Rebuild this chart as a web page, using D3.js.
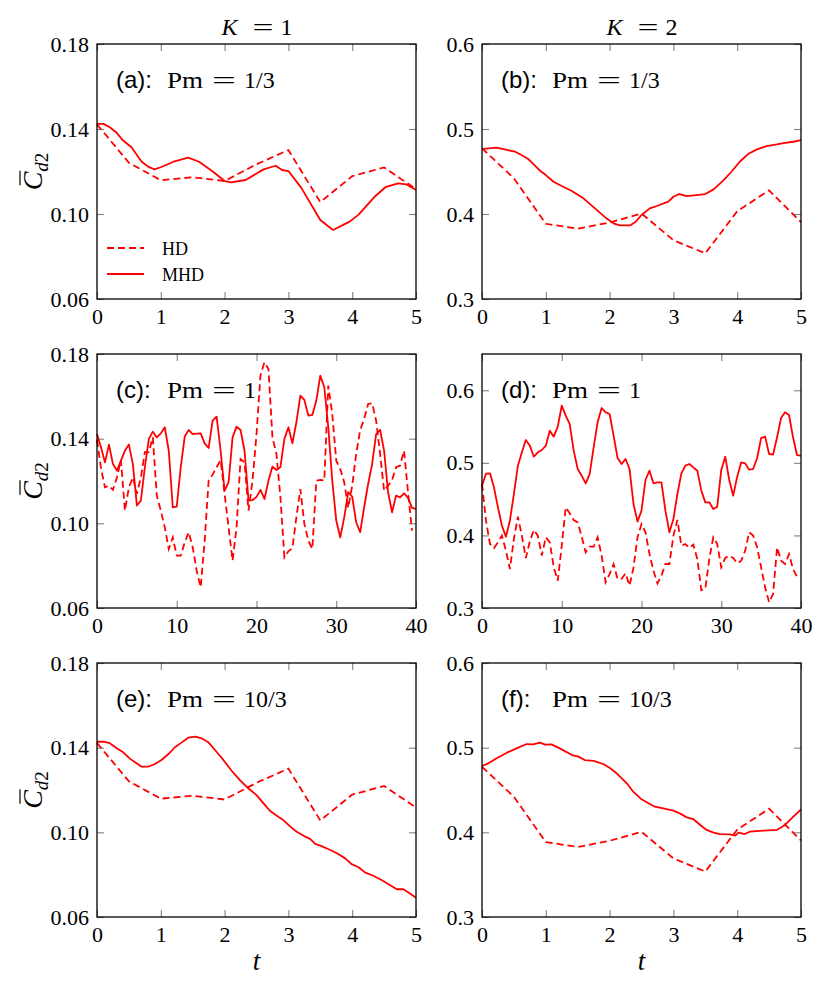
<!DOCTYPE html>
<html>
<head>
<meta charset="utf-8">
<script src="https://cdn.jsdelivr.net/npm/d3@7"></script>
<style>
  body { margin: 0; background: #fff; }
  svg { display: block; }
</style>
</head>
<body>
<div id="chart-container"></div>
<script>
// ---- data ----
// HD runs (same for every Pm, sampled every 0.5)
var hdShortT = [0, 0.5, 1, 1.5, 2, 2.5, 3, 3.5, 4, 4.5, 5];
var hdK1 = [0.1422, 0.1241, 0.1159, 0.1173, 0.1155, 0.1234, 0.1301, 0.1056, 0.1178, 0.1219, 0.1117];
var hdK2 = [0.4773, 0.4420, 0.3885, 0.3827, 0.3900, 0.4006, 0.3692, 0.3537, 0.4032, 0.4279, 0.3904];

// (a) K=1, Pm=1/3 MHD
var mhdAT = [0, 0.1, 0.2, 0.3, 0.4, 0.54, 0.7, 0.8, 0.9, 1.0, 1.2, 1.43, 1.6, 1.82, 2.0, 2.1, 2.33, 2.61, 2.8, 2.9, 3.0, 3.2, 3.5, 3.7, 3.96, 4.1, 4.35, 4.53, 4.72, 4.85, 5.0];
var mhdAV = [0.1424, 0.1424, 0.1408, 0.1385, 0.1348, 0.1314, 0.1246, 0.1223, 0.1210, 0.1220, 0.1246, 0.1265, 0.1246, 0.1199, 0.1155, 0.1149, 0.1160, 0.1210, 0.1227, 0.1207, 0.1202, 0.1124, 0.0972, 0.0925, 0.0964, 0.0997, 0.1081, 0.1128, 0.1144, 0.1139, 0.1113];

// (b) K=2, Pm=1/3 MHD
var mhdBT = [0, 0.1, 0.23, 0.39, 0.52, 0.62, 0.73, 0.83, 0.91, 1.0, 1.12, 1.22, 1.4, 1.59, 1.77, 1.95, 2.06, 2.16, 2.32, 2.41, 2.5, 2.63, 2.74, 2.92, 3.0, 3.09, 3.21, 3.36, 3.5, 3.63, 3.78, 3.91, 4.04, 4.17, 4.31, 4.46, 4.62, 4.75, 4.88, 5.0];
var mhdBV = [0.4764, 0.4772, 0.4780, 0.4753, 0.4733, 0.4694, 0.4643, 0.4568, 0.4509, 0.4458, 0.4380, 0.4341, 0.4274, 0.4184, 0.4066, 0.3949, 0.3890, 0.3866, 0.3866, 0.3909, 0.3988, 0.4066, 0.4094, 0.4145, 0.4203, 0.4235, 0.4211, 0.4223, 0.4235, 0.4290, 0.4392, 0.4497, 0.4615, 0.4705, 0.4760, 0.4799, 0.4819, 0.4838, 0.4850, 0.4870];

// (c) K=1, Pm=1 and (d) K=2, Pm=1, sampled every 0.5 up to t=40
var longT = d3.range(0, 40.25, 0.5);
var hdCV = [0.1394, 0.1260, 0.1170, 0.1178, 0.1158, 0.1217, 0.1299, 0.1060, 0.1170, 0.1217,
  0.1139, 0.1217, 0.1336, 0.1336, 0.1406, 0.1131, 0.1060, 0.0981, 0.0879, 0.0934,
  0.0847, 0.0847, 0.0910, 0.0958, 0.0887, 0.0776, 0.0698, 0.0918, 0.1202, 0.1230,
  0.1265, 0.1299, 0.1139, 0.0981, 0.0824, 0.0981, 0.1304, 0.1288, 0.1060, 0.1202,
  0.1420, 0.1700, 0.1761, 0.1729, 0.1406, 0.1328, 0.1123, 0.0839, 0.0868, 0.0883,
  0.1028, 0.1162, 0.0997, 0.0918, 0.0879, 0.1202, 0.1205, 0.1202, 0.1651, 0.1517,
  0.1296, 0.1257, 0.1194, 0.1073, 0.1178, 0.1328, 0.1441, 0.1493, 0.1564, 0.1567,
  0.1485, 0.1328, 0.1154, 0.1178, 0.1205, 0.1265, 0.1273, 0.1343, 0.1147, 0.0965];
var mhdCV = [0.1422, 0.1359, 0.1288, 0.1372, 0.1280, 0.1249, 0.1296, 0.1343, 0.1372, 0.1280,
  0.1084, 0.1107, 0.1265, 0.1399, 0.1433, 0.1406, 0.1425, 0.1454, 0.1343, 0.1076,
  0.1079, 0.1265, 0.1410, 0.1441, 0.1422, 0.1424, 0.1425, 0.1378, 0.1356, 0.1485,
  0.1504, 0.1343, 0.1154, 0.1194, 0.1406, 0.1457, 0.1441, 0.1343, 0.1107, 0.1110,
  0.1125, 0.1158, 0.1115, 0.1202, 0.1268, 0.1252, 0.1265, 0.1399, 0.1454, 0.1378,
  0.1477, 0.1603, 0.1583, 0.1509, 0.1512, 0.1580, 0.1698, 0.1643, 0.1454, 0.1202,
  0.1013, 0.0934, 0.1028, 0.1147, 0.1126, 0.1005, 0.0958, 0.1076, 0.1186, 0.1280,
  0.1422, 0.1441, 0.1343, 0.1147, 0.1052, 0.1131, 0.1123, 0.1142, 0.1120, 0.1073, 0.1068];
var hdDV = [0.4709, 0.4203, 0.3882, 0.3827, 0.3905, 0.3997, 0.3790, 0.3537, 0.3951, 0.4258,
  0.3997, 0.3689, 0.3919, 0.4075, 0.3997, 0.3721, 0.3974, 0.3905, 0.3560, 0.3377,
  0.3859, 0.4387, 0.4304, 0.4213, 0.4180, 0.3983, 0.3767, 0.3845, 0.3845, 0.3974,
  0.3721, 0.3354, 0.3468, 0.3606, 0.3400, 0.3400, 0.3478, 0.3308, 0.3560, 0.3974,
  0.4157, 0.4043, 0.3744, 0.3514, 0.3340, 0.3446, 0.3606, 0.3606, 0.3997, 0.4213,
  0.3859, 0.3882, 0.3827, 0.3873, 0.3675, 0.3248, 0.3262, 0.3675, 0.3974, 0.3882,
  0.3560, 0.3689, 0.3721, 0.3689, 0.3615, 0.3652, 0.3790, 0.4043, 0.3997, 0.3836,
  0.3560, 0.3285, 0.3078, 0.3193, 0.3836, 0.3652, 0.3606, 0.3744, 0.3537, 0.3431];
var mhdDV = [0.4686, 0.4850, 0.4856, 0.4663, 0.4387, 0.4134, 0.3983, 0.4203, 0.4571, 0.4961,
  0.5145, 0.5315, 0.5237, 0.5085, 0.5145, 0.5177, 0.5237, 0.5443, 0.5361, 0.5499,
  0.5788, 0.5650, 0.5535, 0.5168, 0.4915, 0.4823, 0.4718, 0.4846, 0.5214, 0.5558,
  0.5756, 0.5696, 0.5673, 0.5375, 0.5067, 0.4984, 0.5053, 0.4915, 0.4433, 0.4190,
  0.4341, 0.4764, 0.4892, 0.4718, 0.4732, 0.4732, 0.4341, 0.4043, 0.4226, 0.4571,
  0.4856, 0.4961, 0.4984, 0.4938, 0.4892, 0.4617, 0.4456, 0.4456, 0.4364, 0.4396,
  0.4902, 0.5085, 0.4764, 0.4548, 0.4810, 0.5007, 0.4993, 0.4906, 0.4915, 0.5067,
  0.5342, 0.5361, 0.5122, 0.5113, 0.5352, 0.5618, 0.5696, 0.5659, 0.5352, 0.5108, 0.5099];

// (e) K=1, Pm=10/3 MHD
var mhdET = [0, 0.1, 0.2, 0.31, 0.41, 0.52, 0.62, 0.7, 0.8, 0.91, 1.01, 1.12, 1.22, 1.33, 1.43, 1.54, 1.64, 1.75, 1.85, 1.98, 2.11, 2.24, 2.37, 2.5, 2.61, 2.71, 2.84, 2.92, 3.03, 3.13, 3.26, 3.34, 3.42, 3.52, 3.63, 3.76, 3.89, 3.99, 4.1, 4.2, 4.33, 4.46, 4.59, 4.7, 4.8, 4.9, 5.0];
var mhdEV = [0.1428, 0.1428, 0.1421, 0.1397, 0.1378, 0.1347, 0.1326, 0.1310, 0.1310, 0.1323, 0.1342, 0.1370, 0.1402, 0.1425, 0.1447, 0.1452, 0.1444, 0.1424, 0.1389, 0.1342, 0.1291, 0.1247, 0.1208, 0.1176, 0.1137, 0.1102, 0.1074, 0.1058, 0.1027, 0.1003, 0.0980, 0.0969, 0.0945, 0.0935, 0.0920, 0.0901, 0.0877, 0.0850, 0.0835, 0.0811, 0.0795, 0.0775, 0.0751, 0.0731, 0.0731, 0.0712, 0.0691];

// (f) K=2, Pm=10/3 MHD
var mhdFT = [0, 0.1, 0.23, 0.39, 0.54, 0.7, 0.8, 0.91, 0.99, 1.09, 1.22, 1.41, 1.51, 1.61, 1.75, 1.9, 2.01, 2.11, 2.27, 2.37, 2.5, 2.63, 2.71, 2.84, 3.0, 3.1, 3.21, 3.31, 3.42, 3.52, 3.63, 3.73, 3.89, 3.97, 4.02, 4.12, 4.2, 4.41, 4.62, 4.75, 4.88, 5.0];
var mhdFV = [0.4783, 0.4815, 0.4874, 0.4941, 0.4992, 0.5043, 0.5039, 0.5059, 0.5035, 0.5039, 0.4992, 0.4913, 0.4894, 0.4854, 0.4843, 0.4807, 0.4756, 0.4697, 0.4579, 0.4480, 0.4390, 0.4335, 0.4303, 0.4283, 0.4256, 0.4224, 0.4177, 0.4157, 0.4087, 0.4028, 0.3996, 0.3980, 0.3976, 0.3961, 0.3996, 0.3980, 0.4008, 0.4020, 0.4028, 0.4087, 0.4185, 0.4272];

// tick values
var shortXTicks = [0, 1, 2, 3, 4, 5];
var longXTicks = [0, 10, 20, 30, 40];
var k1YTicks = [0.06, 0.10, 0.14, 0.18];
var k2YTicks = [0.3, 0.4, 0.5, 0.6];
var columnTitles = ['1', '2'];
var panelLetters = ['a', 'b', 'c', 'd', 'e', 'f'];
var pmLabels = ['1/3', '1/3', '1', '1', '10/3', '10/3'];

// ---- layout ----
var width = 830, height = 995;
var cols = [{x0: 97, x1: 416}, {x0: 482, x1: 801}];
var rows = [{y0: 44, y1: 299}, {y0: 354, y1: 608}, {y0: 663, y1: 917}];
var red = '#ff0000';
var serif = "'Liberation Serif', 'DejaVu Serif', serif";
var sans = "'Liberation Sans', 'DejaVu Sans', sans-serif";

function zip(ts, vs) {
  return vs.map(function(v, i) { return [ts[i], v]; });
}

var panels = [
  {row: 0, col: 0, xDom: [0, 5], xTicks: shortXTicks, yDom: [0.06, 0.18], yTicks: k1YTicks, fmt: '.2f',
    hd: zip(hdShortT, hdK1), mhd: zip(mhdAT, mhdAV), legend: true},
  {row: 0, col: 1, xDom: [0, 5], xTicks: shortXTicks, yDom: [0.3, 0.6], yTicks: k2YTicks, fmt: '.1f',
    hd: zip(hdShortT, hdK2), mhd: zip(mhdBT, mhdBV)},
  {row: 1, col: 0, xDom: [0, 40], xTicks: longXTicks, yDom: [0.06, 0.18], yTicks: k1YTicks, fmt: '.2f',
    hd: zip(longT, hdCV), mhd: zip(longT, mhdCV)},
  {row: 1, col: 1, xDom: [0, 40], xTicks: longXTicks, yDom: [0.3, 0.65], yTicks: k2YTicks, fmt: '.1f',
    hd: zip(longT, hdDV), mhd: zip(longT, mhdDV)},
  {row: 2, col: 0, xDom: [0, 5], xTicks: shortXTicks, yDom: [0.06, 0.18], yTicks: k1YTicks, fmt: '.2f',
    hd: zip(hdShortT, hdK1), mhd: zip(mhdET, mhdEV)},
  {row: 2, col: 1, xDom: [0, 5], xTicks: shortXTicks, yDom: [0.3, 0.6], yTicks: k2YTicks, fmt: '.1f',
    hd: zip(hdShortT, hdK2), mhd: zip(mhdFT, mhdFV)}
];

var svg = d3.select('#chart-container').append('svg')
  .attr('width', width)
  .attr('height', height)
  .attr('viewBox', '0 0 ' + width + ' ' + height);

svg.append('rect').attr('width', width).attr('height', height).attr('fill', '#fff');

function styleAxis(g) {
  g.attr('font-family', null).attr('font-size', null);
  g.select('.domain').remove();
  g.selectAll('.tick line').attr('stroke', '#808080').attr('stroke-width', 1.1);
  g.selectAll('.tick text')
    .attr('fill', '#000')
    .attr('font-family', serif)
    .attr('font-size', 22);
}

panels.forEach(function(p, i) {
  var c = cols[p.col], r = rows[p.row];
  var w = c.x1 - c.x0, h = r.y1 - r.y0;
  var x = d3.scaleLinear().domain(p.xDom).range([0, w]);
  var y = d3.scaleLinear().domain(p.yDom).range([h, 0]);
  var g = svg.append('g').attr('transform', 'translate(' + c.x0 + ',' + r.y0 + ')');

  // ticks point inward on all four sides
  g.append('g').attr('transform', 'translate(0,' + h + ')')
    .call(d3.axisBottom(x).tickValues(p.xTicks).tickSize(-7).tickPadding(9).tickFormat(d3.format('d')))
    .call(styleAxis);
  g.append('g')
    .call(d3.axisTop(x).tickValues(p.xTicks).tickSize(-7).tickFormat(''))
    .call(styleAxis);
  g.append('g')
    .call(d3.axisLeft(y).tickValues(p.yTicks).tickSize(-7).tickPadding(8).tickFormat(d3.format(p.fmt)))
    .call(styleAxis);
  g.append('g').attr('transform', 'translate(' + w + ',0)')
    .call(d3.axisRight(y).tickValues(p.yTicks).tickSize(-7).tickFormat(''))
    .call(styleAxis);

  var line = d3.line()
    .x(function(d) { return x(d[0]); })
    .y(function(d) { return y(d[1]); });

  g.append('path').datum(p.hd)
    .attr('d', line)
    .attr('fill', 'none')
    .attr('stroke', red)
    .attr('stroke-width', 1.8)
    .attr('stroke-dasharray', '7,4');
  g.append('path').datum(p.mhd)
    .attr('d', line)
    .attr('fill', 'none')
    .attr('stroke', red)
    .attr('stroke-width', 1.8)
    .attr('stroke-linejoin', 'round');

  // frame drawn last so it sits over the edge ticks
  g.append('rect')
    .attr('width', w).attr('height', h)
    .attr('fill', 'none')
    .attr('stroke', '#000')
    .attr('stroke-width', 1.3);

  // panel label: sans letter, serif maths
  var lab = g.append('g').attr('font-size', 24).attr('fill', '#000');
  lab.append('text').attr('x', 19).attr('y', 44).attr('font-family', sans)
    .text('(' + panelLetters[i] + '):');
  lab.append('text').attr('x', 70).attr('y', 44).attr('font-family', serif)
    .attr('textLength', 36).attr('lengthAdjust', 'spacingAndGlyphs').text('Pm');
  lab.append('text').attr('x', 115).attr('y', 44).attr('font-family', serif)
    .attr('textLength', 24).attr('lengthAdjust', 'spacingAndGlyphs').text('=');
  lab.append('text').attr('x', 147).attr('y', 44).attr('font-family', serif).text(pmLabels[i]);

  if (p.legend) {
    var items = [{name: 'HD', dash: '7,4', y: 204}, {name: 'MHD', dash: null, y: 230}];
    items.forEach(function(it) {
      g.append('line')
        .attr('x1', 10).attr('x2', 47)
        .attr('y1', it.y).attr('y2', it.y)
        .attr('stroke', red).attr('stroke-width', 1.8)
        .attr('stroke-dasharray', it.dash);
      g.append('text')
        .attr('x', 65).attr('y', it.y + 6.5)
        .attr('font-family', serif).attr('font-size', 18)
        .text(it.name);
    });
  }

  // y label on the left column
  if (p.col === 0) {
    var yl = svg.append('g')
      .attr('transform', 'translate(42,' + (r.y0 + h / 2) + ') rotate(-90)');
    var t = yl.append('text')
      .attr('text-anchor', 'middle')
      .attr('font-family', serif);
    t.append('tspan').attr('font-style', 'italic').attr('font-size', 28).text('C');
    t.append('tspan').attr('dy', 6).attr('font-style', 'italic').attr('font-size', 19).text('d');
    t.append('tspan').attr('font-size', 19).text('2');
    var ext = t.node().getExtentOfChar(0);
    yl.append('line')
      .attr('x1', ext.x + 5).attr('x2', ext.x + ext.width + 1)
      .attr('y1', ext.y + 3).attr('y2', ext.y + 3)
      .attr('stroke', '#000').attr('stroke-width', 1.2);
  }

  // column title on the top row
  if (p.row === 0) {
    var ct = svg.append('g').attr('font-family', serif).attr('font-size', 24);
    var cx = c.x0 + w / 2;
    ct.append('text').attr('x', cx - 35).attr('y', 35).attr('font-style', 'italic').text('K');
    ct.append('text').attr('x', cx - 4).attr('y', 35)
      .attr('textLength', 21).attr('lengthAdjust', 'spacingAndGlyphs').text('=');
    ct.append('text').attr('x', cx + 24).attr('y', 35).text(columnTitles[p.col]);
  }

  // x label on the bottom row
  if (p.row === 2) {
    svg.append('text')
      .attr('x', c.x0 + w / 2).attr('y', 970)
      .attr('text-anchor', 'middle')
      .attr('font-family', serif).attr('font-size', 27).attr('font-style', 'italic')
      .text('t');
  }
});
</script>
</body>
</html>
